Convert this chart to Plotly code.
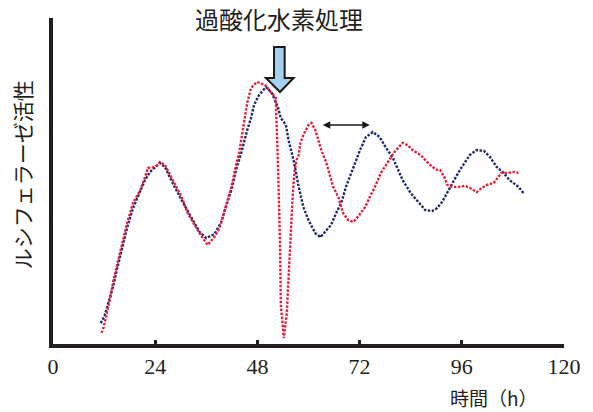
import plotly.graph_objects as go

# ---- data ----
blue_t = [11.2, 12.1, 13.0, 14.2, 15.1, 15.8, 16.5, 17.4, 18.8, 20.5, 21.6, 22.8, 24.0, 25.1,
          26.3, 27.4, 29.8, 32.1, 34.4, 36.0, 37.9, 39.5, 41.4, 42.1, 43.0, 44.2, 45.6, 46.5,
          47.2, 48.4, 50.0, 51.4, 52.8, 53.5, 54.2, 54.7, 55.3, 56.5, 57.7, 58.8, 60.0, 61.6,
          62.8, 64.2, 65.3, 66.5, 67.7, 68.8, 70.5, 72.1, 73.5, 75.1, 76.7, 78.1, 79.8, 82.1,
          84.0, 86.0, 87.4, 89.1, 90.2, 91.4, 92.6, 94.2, 96.0, 97.9, 99.5, 101.2, 102.6,
          104.2, 105.8, 107.2, 109.3, 110.5]
blue_v = [6.4, 8.6, 12.6, 18.1, 23.3, 27.3, 31.3, 35.6, 41.7, 46.6, 50.3, 52.8, 54.3, 55.5,
          54.3, 51.2, 45.1, 39.6, 34.4, 32.5, 33.7, 37.4, 45.1, 48.2, 53.4, 58.6, 65.6, 69.3,
          73.3, 76.4, 78.8, 77.0, 72.7, 69.3, 68.1, 67.2, 62.6, 56.4, 48.2, 42.0, 38.0, 34.0,
          32.8, 35.0, 36.5, 40.2, 43.3, 48.2, 54.3, 59.5, 63.5, 65.0, 63.5, 60.4, 57.1, 50.3,
          46.3, 43.3, 41.1, 40.8, 41.7, 43.6, 46.6, 50.3, 54.3, 58.0, 59.5, 59.2, 57.4,
          54.3, 52.5, 50.3, 48.2, 46.3]

red_t = [11.4, 11.9, 12.8, 13.5, 14.2, 15.1, 15.8, 16.5, 17.4, 18.8, 20.5, 21.6, 22.3, 24.0,
         25.1, 26.3, 28.1, 30.2, 31.6, 33.3, 34.4, 36.3, 37.9, 39.1, 40.2, 40.9, 41.9, 43.0,
         43.7, 44.7, 45.6, 46.5, 47.9, 49.8, 51.2, 52.3, 52.8, 53.3, 53.5, 54.0, 54.2, 54.9,
         55.3, 55.6, 55.8, 56.0, 56.3, 56.7, 57.2, 57.7, 58.1, 58.8, 60.0, 60.7, 61.6, 62.3,
         63.0, 64.2, 65.1, 65.8, 67.0, 68.1, 69.3, 70.5, 71.6, 73.3, 74.4, 75.6, 77.0, 78.6,
         80.2, 82.1, 83.3, 84.4, 86.3, 87.9, 89.1, 90.2, 90.9, 91.9, 92.6, 93.7, 95.3, 96.7,
         97.9, 99.5, 100.7, 101.9, 103.5, 105.3, 107.0, 108.1, 109.3]
red_v = [3.4, 5.2, 10.4, 14.4, 19.6, 24.8, 28.8, 32.8, 37.1, 43.3, 47.2, 51.2, 54.0, 54.3,
         55.8, 54.9, 50.3, 45.1, 40.2, 36.5, 34.0, 30.4, 32.8, 35.6, 40.5, 44.2, 48.2, 54.9,
         58.6, 66.6, 73.9, 78.5, 80.4, 79.4, 77.3, 75.5, 56.4, 31.3, 12.0, 5.8, 1.8, 9.5,
         20.6, 26.4, 33.4, 39.0, 45.7, 52.8, 56.4, 58.0, 61.7, 64.1, 67.2, 67.8, 65.6, 62.6,
         59.5, 55.5, 51.2, 48.2, 45.1, 40.2, 38.0, 37.4, 39.0, 42.0, 45.1, 48.2, 52.5, 55.8,
         58.9, 61.7, 61.0, 59.5, 58.0, 55.8, 54.3, 53.4, 53.4, 51.2, 48.8, 48.2, 48.2, 48.5,
         47.9, 46.6, 47.9, 48.8, 49.4, 52.5, 52.5, 52.8, 52.5]

x_ticks = [0, 24, 48, 72, 96, 120]
title_text = "過酸化水素処理"
y_label = "ルシフェラーゼ活性"
x_label = "時間（h）"

INK = "#231f20"
BLUE = "#1f2b6c"
RED = "#e3213a"

L, R, T, B = 53, 25, 18, 68
W, H = 593, 412
pw = W - L - R
ph = H - T - B

fig = go.Figure()
fig.add_trace(go.Scatter(x=blue_t, y=blue_v, mode="lines",
                         line=dict(color=BLUE, width=2.4, dash="2.5px,1.5px"),
                         showlegend=False, hoverinfo="skip"))
fig.add_trace(go.Scatter(x=red_t, y=red_v, mode="lines",
                         line=dict(color=RED, width=2.4, dash="2.5px,1.5px"),
                         showlegend=False, hoverinfo="skip"))

# block arrow (treatment marker)
fig.add_shape(type="path",
              path="M 51.9,91.1 L 54.4,91.1 L 54.4,81.6 L 56.5,81.6 L 53.3,77.3 L 50.0,81.6 L 51.9,81.6 Z",
              xref="x", yref="y", fillcolor="#a6d0f0",
              line=dict(color="#1a1a1a", width=2), layer="above")

# double-headed arrow (phase shift)
fig.add_annotation(x=74.4, y=67.2, ax=63.0, ay=67.2, xref="x", yref="y",
                   axref="x", ayref="y", text="", showarrow=True,
                   arrowhead=2, startarrowhead=2, arrowside="end+start",
                   arrowwidth=1.5, arrowsize=1, startarrowsize=1, arrowcolor="#1a1a1a")

# title
fig.add_annotation(x=(281 - L) / pw, y=(H - B - 19) / ph, xref="paper", yref="paper",
                   text=title_text, showarrow=False,
                   font=dict(family="Noto Sans CJK JP", size=24, color=INK),
                   xanchor="center", yanchor="middle")
# y label
fig.add_annotation(x=(22 - L) / pw, y=(H - B - 175) / ph, xref="paper", yref="paper",
                   text=y_label, showarrow=False, textangle=-90,
                   font=dict(family="Noto Sans CJK JP", size=21, color=INK),
                   xanchor="center", yanchor="middle")
# x label
fig.add_annotation(x=(497 - L) / pw, y=(H - B - 397) / ph, xref="paper", yref="paper",
                   text=x_label, showarrow=False,
                   font=dict(family="Noto Sans CJK JP", size=19, color=INK),
                   xanchor="center", yanchor="middle")

fig.update_layout(
    width=W, height=H,
    margin=dict(l=L, r=R, t=T, b=B),
    paper_bgcolor="white", plot_bgcolor="white",
    xaxis=dict(range=[0, 120], tickmode="array", tickvals=x_ticks,
               ticktext=[str(v) for v in x_ticks],
               showline=True, linewidth=3.5, linecolor=INK,
               ticks="inside", ticklen=4, tickwidth=3, tickcolor=INK,
               showgrid=False, zeroline=False,
               tickfont=dict(family="Liberation Serif", size=22, color=INK)),
    yaxis=dict(range=[0, 100], showline=True, linewidth=3.5, linecolor=INK,
               showticklabels=False, ticks="", showgrid=False, zeroline=False),
)

fig.write_html("out.html", config={"displayModeBar": False},
               post_script="document.body.style.margin='0';")
